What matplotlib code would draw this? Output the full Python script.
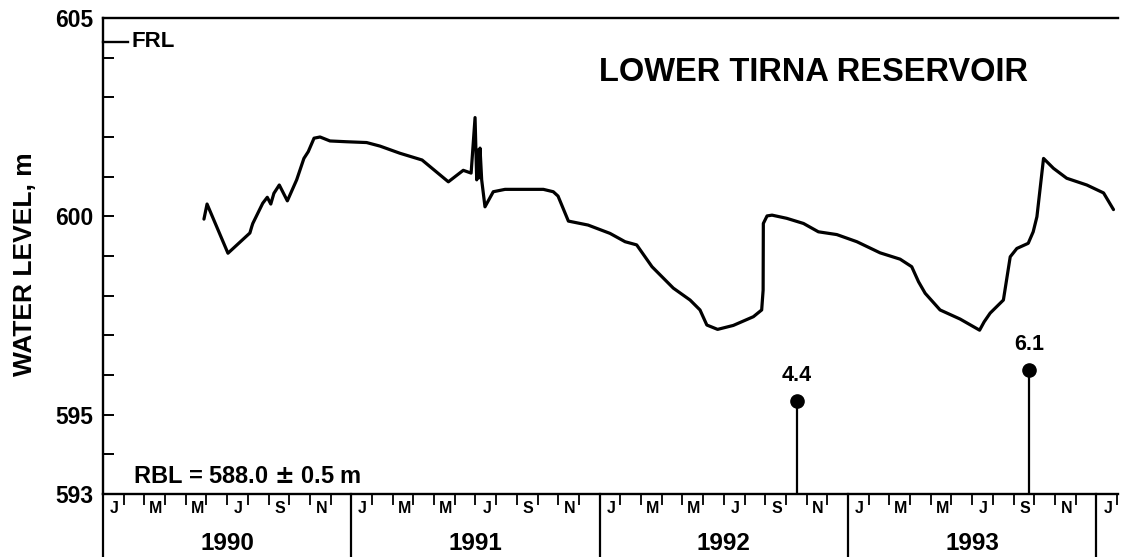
import matplotlib
matplotlib.use("Agg")
import matplotlib.pyplot as plt
import matplotlib.transforms as mtransforms

plt.rcParams['font.family'] = ['Liberation Sans', 'DejaVu Sans']
plt.rcParams['font.weight'] = 'bold'

# months since 1 Jan 1990
months = [4.88, 5.03, 6.04, 7.10, 7.19, 7.24, 7.72, 7.94, 8.11, 8.26, 8.52, 8.91,
          9.36, 9.71, 9.92, 10.20, 10.49, 10.97, 11.78, 12.74, 13.39, 14.35, 15.42,
          16.69, 17.41, 17.79, 17.98, 18.06, 18.12, 18.17, 18.22, 18.30, 18.46, 18.86,
          19.43, 20.15, 21.28, 21.76, 21.99, 22.49, 23.44, 24.50, 25.23, 25.79, 26.53,
          27.56, 28.37, 28.85, 29.18, 29.70, 30.46, 31.43, 31.83, 31.90, 31.91, 32.09,
          32.33, 33.04, 33.85, 34.57, 35.46, 36.43, 37.55, 38.52, 39.08, 39.41, 39.73,
          40.45, 41.42, 42.36, 42.58, 42.87, 43.51, 43.84, 44.16, 44.71, 44.95, 45.13,
          45.45, 45.93, 46.57, 47.54, 48.35, 48.83]
levels = [599.93, 600.31, 599.07, 599.58, 599.74, 599.82, 600.33, 600.48, 600.31, 600.58,
          600.79, 600.39, 600.92, 601.46, 601.63, 601.97, 602.00, 601.90, 601.88, 601.86,
          601.77, 601.59, 601.42, 600.87, 601.16, 601.09, 602.49, 600.92, 601.67, 600.97,
          601.72, 600.92, 600.24, 600.62, 600.68, 600.68, 600.68, 600.62, 600.51, 599.88,
          599.78, 599.57, 599.36, 599.28, 598.73, 598.19, 597.89, 597.64, 597.26, 597.15,
          597.25, 597.47, 597.64, 598.14, 599.82, 600.01, 600.03, 599.95, 599.82, 599.61,
          599.54, 599.36, 599.08, 598.92, 598.73, 598.35, 598.06, 597.64, 597.41, 597.13,
          597.34, 597.56, 597.89, 598.98, 599.19, 599.32, 599.61, 599.99, 601.46, 601.21,
          600.96, 600.79, 600.59, 600.17]

stem_months = [33.54, 44.76]
stem_tops = [595.35, 596.13]
stem_labels = ["4.4", "6.1"]

years = ["1990", "1991", "1992", "1993"]
month_letters = ["J", "M", "M", "J", "S", "N"]
frl_level = 604.4
ytick_vals = [593, 595, 600, 605]
ymin, ymax = 593, 605
xmax = 49.05

fig = plt.figure(figsize=(11.24, 5.57), dpi=100)
ax = fig.add_axes([0.0916, 0.1131, 0.9031, 0.8546])
ax.set_xlim(0, xmax)
ax.set_ylim(ymin, ymax)

ax.plot(months, levels, color='black', lw=2.3, solid_joinstyle='round', solid_capstyle='round')

# stems
ax.vlines(stem_months, ymin, stem_tops, color='black', lw=1.6)
ax.plot(stem_months, stem_tops, 'o', color='black', ms=9.5)
for xm, yt, lab in zip(stem_months, stem_tops, stem_labels):
    ax.annotate(lab, (xm, yt), xytext=(0, 11), textcoords='offset points',
                ha='center', va='bottom', fontsize=15.5, fontweight='bold')

# spines
for s in ['left', 'bottom', 'top']:
    ax.spines[s].set_linewidth(1.7)
ax.spines['right'].set_visible(False)

# y ticks
ax.set_yticks(ytick_vals)
ax.set_yticks(list(range(ymin, ymax + 1)), minor=True)
ax.set_yticklabels([str(v) for v in ytick_vals])
ax.tick_params(axis='y', which='both', direction='in', length=8, width=1.4, pad=7,
               labelsize=16.5)

# FRL marker
ax.plot([0, 1.2], [frl_level, frl_level], color='black', lw=1.7, clip_on=False)
ax.text(1.4, frl_level, "FRL", ha='left', va='center', fontsize=16, fontweight='bold')

# x ticks: month boundaries
ax.set_xticks(list(range(0, int(xmax) + 1)))
ax.set_xticklabels([])
ax.tick_params(axis='x', which='major', direction='out', length=8, width=1.3, top=False)

trans = mtransforms.blended_transform_factory(ax.transData, ax.transAxes)
nmonths = int(xmax) + 1
for m in range(0, nmonths, 2):
    if m + 0.5 < xmax:
        ax.text(m + 0.55, -0.03, month_letters[(m % 12) // 2], transform=trans,
                ha='center', va='center', fontsize=11.5, fontweight='bold')
for i in range(len(years) + 1):
    ax.plot([12 * i, 12 * i], [0, -0.14], transform=trans, color='black', lw=1.6, clip_on=False)
for i, y in enumerate(years):
    ax.text(12 * i + 6, -0.103, y, transform=trans, ha='center', va='center',
            fontsize=17.5, fontweight='bold')

ax.text(1.45, 593.45, "RBL = 588.0 $\\pm$ 0.5 m",
        ha='left', va='center', fontsize=17, fontweight='bold')

ax.text(0.70, 0.885, "LOWER TIRNA RESERVOIR", transform=ax.transAxes, ha='center',
        va='center', fontsize=23.5, fontweight='bold')

fig.text(0.022, 0.525, "WATER LEVEL, m", rotation=90, ha='center', va='center',
         fontsize=19, fontweight='bold')

fig.savefig("out.png", dpi=100, facecolor='white')
